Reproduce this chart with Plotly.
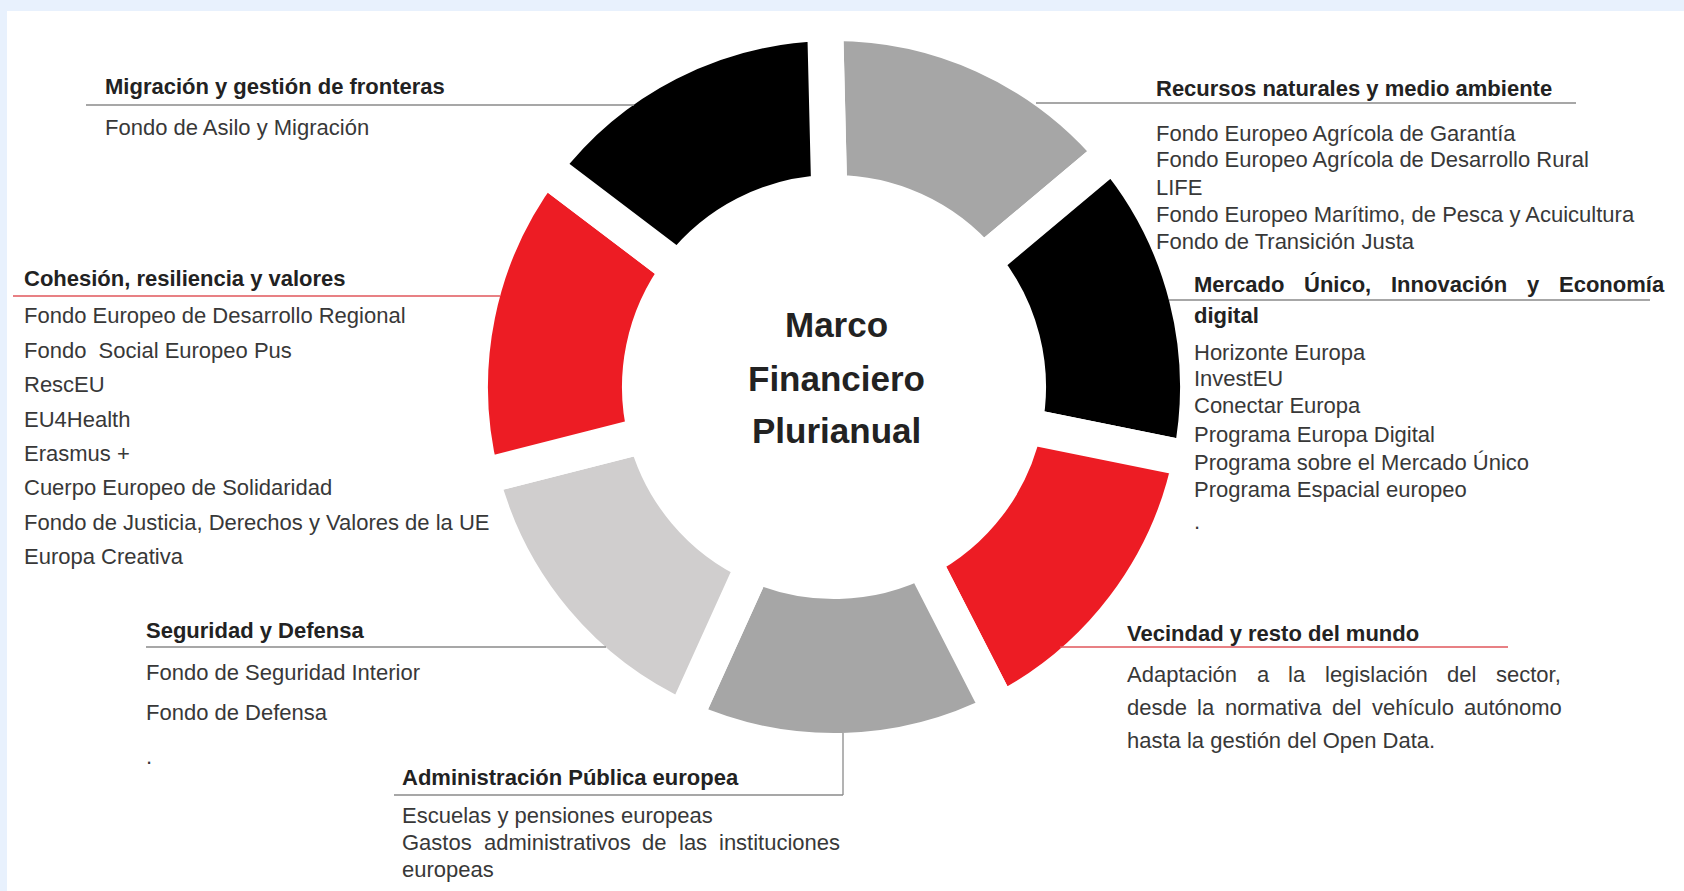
import plotly.graph_objects as go

# ---------------- data ----------------
categories = [
    "Recursos naturales y medio ambiente",
    "Mercado Único, Innovación y Economía digital",
    "Vecindad y resto del mundo",
    "Administración Pública europea",
    "Seguridad y Defensa",
    "Cohesión, resiliencia y valores",
    "Migración y gestión de fronteras",
]
values = [1, 1, 1, 1, 1, 1, 1]

center_title = ["Marco", "Financiero", "Plurianual"]

prog_migracion = ["Fondo de Asilo y Migración"]
prog_cohesion = [
    "Fondo Europeo de Desarrollo Regional",
    "Fondo  Social Europeo Pus",
    "RescEU",
    "EU4Health",
    "Erasmus +",
    "Cuerpo Europeo de Solidaridad",
    "Fondo de Justicia, Derechos y Valores de la UE",
    "Europa Creativa",
]
prog_seguridad = ["Fondo de Seguridad Interior", "Fondo de Defensa", "."]
prog_admin = [
    "Escuelas y pensiones europeas",
    "Gastos administrativos de las instituciones",
    "europeas",
]
prog_recursos = [
    "Fondo Europeo Agrícola de Garantía",
    "Fondo Europeo Agrícola de Desarrollo Rural",
    "LIFE",
    "Fondo Europeo Marítimo, de Pesca y Acuicultura",
    "Fondo de Transición Justa",
]
mercado_head = ["Mercado Único, Innovación y Economía", "digital"]
prog_mercado = [
    "Horizonte Europa",
    "InvestEU",
    "Conectar Europa",
    "Programa Europa Digital",
    "Programa sobre el Mercado Único",
    "Programa Espacial europeo",
    ".",
]
vecindad_text = [
    "Adaptación a la legislación del sector,",
    "desde la normativa del vehículo autónomo",
    "hasta la gestión del Open Data.",
]

# ---------------- styles / layout ----------------
slice_colors = ["#a6a6a6", "#000000", "#ed1c24", "#a6a6a6", "#d0cece", "#ed1c24", "#000000"]
FONT = "Liberation Sans, Arial, sans-serif"
BODY = "#383838"
HEAD = "#222222"
GRAYLINE = "#8a8a8a"
REDLINE = "#e0565b"
BLUE = "#e8f1fd"

FW, FH = 1684, 891


def X(px):
    return px / FW


def Y(py):
    return 1 - py / FH


CX, CY = 834, 387
R_OUT, R_IN, GAP = 346, 212, 36
r_path = R_OUT + GAP / 2
hole = (R_IN - GAP / 2) / r_path

fig = go.Figure(
    go.Pie(
        labels=categories,
        values=values,
        sort=False,
        direction="clockwise",
        rotation=-1.4,
        hole=hole,
        marker=dict(colors=slice_colors, line=dict(color="white", width=GAP)),
        textinfo="none",
        hoverinfo="label",
        showlegend=False,
        domain=dict(x=[X(CX - r_path), X(CX + r_path)], y=[Y(CY + r_path), Y(CY - r_path)]),
    )
)

annotations = []
shapes = []


def txt(x, y, s, bold=False, size=22, color=BODY, anchor="left"):
    annotations.append(
        dict(
            x=X(x), y=Y(y), xref="paper", yref="paper",
            text=f"<b>{s}</b>" if bold else s,
            showarrow=False, xanchor=anchor, yanchor="middle",
            borderpad=0, borderwidth=0,
            font=dict(family=FONT, size=size, color=HEAD if bold else color),
        )
    )


def hline(x0, x1, y, color=GRAYLINE):
    shapes.append(dict(type="line", xref="paper", yref="paper",
                       x0=X(x0), x1=X(x1), y0=Y(y), y1=Y(y),
                       line=dict(color=color, width=1.3)))


def vline(x, y0, y1, color=GRAYLINE):
    shapes.append(dict(type="line", xref="paper", yref="paper",
                       x0=X(x), x1=X(x), y0=Y(y0), y1=Y(y1),
                       line=dict(color=color, width=1.3)))


def words(line, xs, y, bold=False):
    for w, x in zip(line.split(), xs):
        txt(x, y, w, bold=bold)


# light-blue frame strips (top and left)
shapes.append(dict(type="rect", xref="paper", yref="paper", x0=0, x1=1,
                   y0=Y(11), y1=1, fillcolor=BLUE, line=dict(width=0), layer="above"))
shapes.append(dict(type="rect", xref="paper", yref="paper", x0=0, x1=X(7),
                   y0=0, y1=1, fillcolor=BLUE, line=dict(width=0), layer="above"))

# Migración
txt(105, 86, categories[6], bold=True)
hline(86, 634, 105)
for s, y in zip(prog_migracion, [127]):
    txt(105, y, s)

# Cohesión
txt(24, 278, categories[5], bold=True)
hline(13, 500, 296, REDLINE)
for s, y in zip(prog_cohesion, [316, 350, 384, 419, 453, 488, 522, 556]):
    txt(24, y, s)

# Seguridad
txt(146, 630, categories[4], bold=True)
hline(146, 606, 647)
for s, y in zip(prog_seguridad, [672, 712, 756]):
    txt(146, y, s)

# Administración
txt(402, 777, categories[3], bold=True)
hline(394, 843, 795)
vline(843, 733, 795)
txt(402, 815, prog_admin[0])
words(prog_admin[1], [402, 484, 642, 679, 719], 842)
txt(402, 869, prog_admin[2])

# Recursos
txt(1156, 88, categories[0], bold=True)
hline(1036, 1576, 103)
for s, y in zip(prog_recursos, [133, 160, 187, 214, 241]):
    txt(1156, y, s)

# Mercado
words(mercado_head[0], [1194, 1304, 1391, 1527, 1559], 284, bold=True)
hline(1169, 1650, 300)
txt(1194, 316, mercado_head[1], bold=True)
for s, y in zip(prog_mercado, [352, 379, 406, 434, 462, 489, 521]):
    txt(1194, y, s)

# Vecindad
txt(1127, 633, categories[2], bold=True)
hline(1060, 1508, 647, REDLINE)
words(vecindad_text[0], [1127, 1257, 1288, 1325, 1447, 1496], 674)
words(vecindad_text[1], [1127, 1197, 1225, 1332, 1372, 1464], 707)
txt(1127, 740, vecindad_text[2])

# centre title
for s, y in zip(center_title, [324, 378, 430]):
    txt(836, y, s, bold=True, size=35, anchor="center")

fig.update_layout(
    width=FW, height=FH,
    margin=dict(l=0, r=0, t=0, b=0),
    paper_bgcolor="white", plot_bgcolor="white",
    annotations=annotations, shapes=shapes,
)

fig.write_html(
    "out.html",
    config={"displayModeBar": False},
    post_script="document.body.style.margin='0';document.body.style.overflow='hidden';",
)
